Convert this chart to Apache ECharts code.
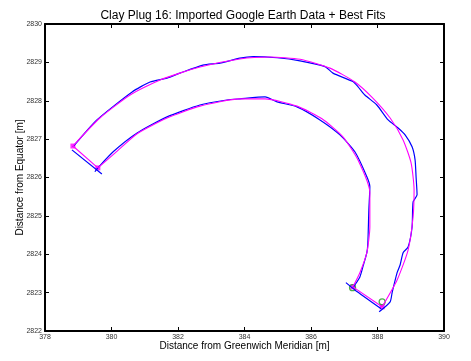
<!DOCTYPE html>
<html>
<head>
<meta charset="utf-8">
<script src="https://cdn.jsdelivr.net/npm/echarts@6/dist/echarts.min.js"></script>
<style>
  html, body { margin: 0; padding: 0; background: #fff; }
  #chart { width: 471px; height: 361px; }
</style>
</head>
<body>
<div id="chart"></div>
<script>
// Digitised outline of clay plug 16 (Google Earth) and fitted curves, in metres
const outerData = [
  [378.84, 2826.80], [379.56, 2827.50], [380.62, 2828.23], [381.16, 2828.49],
  [381.67, 2828.59], [382.06, 2828.72], [382.75, 2828.93], [383.26, 2828.98],
  [383.86, 2829.11], [384.26, 2829.15], [384.98, 2829.12], [385.67, 2829.04],
  [386.42, 2828.89], [386.66, 2828.72], [387.26, 2828.50], [387.41, 2828.37],
  [387.62, 2828.15], [387.98, 2827.89], [388.32, 2827.50], [388.62, 2827.29],
  [388.83, 2827.11], [389.04, 2826.80], [389.13, 2826.46], [389.16, 2826.02],
  [389.19, 2825.55], [389.07, 2825.36], [389.04, 2824.71], [388.92, 2824.19],
  [388.77, 2824.04], [388.68, 2823.72], [388.59, 2823.52], [388.44, 2823.00],
  [388.38, 2822.76], [388.05, 2822.50]
];
const innerData = [
  [379.50, 2826.15], [379.59, 2826.25], [380.05, 2826.67], [380.77, 2827.16],
  [381.67, 2827.58], [382.66, 2827.89], [383.47, 2828.02], [383.86, 2828.05],
  [384.62, 2828.10], [384.98, 2827.97], [385.58, 2827.84], [386.27, 2827.50],
  [386.87, 2827.11], [387.32, 2826.67], [387.68, 2826.02], [387.77, 2825.76],
  [387.74, 2825.16], [387.71, 2824.30], [387.68, 2824.04], [387.56, 2823.67],
  [387.47, 2823.41], [387.32, 2823.20], [387.26, 2823.13]
];
const westEndData = [[378.81, 2826.72], [379.71, 2826.09]];
const eastEndData = [[387.05, 2823.26], [387.32, 2823.07], [388.11, 2822.58]];

const outerFit = [
  [378.84, 2826.82], [379.65, 2827.55], [380.56, 2828.15], [381.46, 2828.54],
  [382.66, 2828.88], [383.86, 2829.09], [384.77, 2829.14], [385.67, 2829.08],
  [386.57, 2828.85], [387.32, 2828.49], [387.86, 2828.07], [388.38, 2827.55],
  [388.77, 2826.98], [389.01, 2826.38], [389.10, 2825.68], [389.07, 2824.97],
  [388.92, 2824.11], [388.59, 2823.33], [388.14, 2822.63]
];
const innerFit = [
  [379.59, 2826.25], [380.11, 2826.64], [380.77, 2827.14], [381.67, 2827.55],
  [382.66, 2827.86], [383.86, 2828.05], [384.62, 2828.05], [385.58, 2827.86],
  [386.33, 2827.53], [386.96, 2827.06], [387.41, 2826.46], [387.77, 2825.60],
  [387.77, 2824.71], [387.68, 2824.04], [387.47, 2823.52], [387.26, 2823.15]
];
const westEndFit = [[378.84, 2826.82], [379.59, 2826.25]];
const eastEndFit = [[387.26, 2823.15], [388.14, 2822.63]];
const fitCorners = [[378.84, 2826.82], [379.59, 2826.25], [387.26, 2823.15], [388.14, 2822.63]];
const endPoints = [[387.25, 2823.13], [388.14, 2822.76]];

const xTicks = [378, 380, 382, 384, 386, 388, 390];
const yTicks = [2822, 2823, 2824, 2825, 2826, 2827, 2828, 2829, 2830];

const BLUE = '#0000ff', MAGENTA = '#ff00ff', GREEN = '#1f9a1f';
const FONT = 'Liberation Sans, Arial, Helvetica, sans-serif';

function lineSeries(data, color, width) {
  return {
    type: 'line', data: data, showSymbol: false, symbol: 'none', smooth: 0.2,
    lineStyle: { color: color, width: width }, animation: false, silent: true
  };
}

const tickStyle = { show: true, inside: true, length: 4, lineStyle: { color: '#000', width: 1 } };
const lineStyle = { show: true, lineStyle: { color: '#000', width: 2 } };
const plain = v => String(v);

const chart = echarts.init(document.getElementById('chart'), null, { renderer: 'canvas' });
chart.setOption({
  backgroundColor: '#fff',
  animation: false,
  title: {
    text: 'Clay Plug 16: Imported Google Earth Data + Best Fits',
    left: 238, top: 5, textAlign: 'center',
    textStyle: { fontFamily: FONT, fontSize: 12, fontWeight: 'normal', color: '#000' }
  },
  grid: { left: 45, right: 27, top: 24, bottom: 30, containLabel: false },
  xAxis: [{
    type: 'value', min: xTicks[0], max: xTicks[xTicks.length - 1], interval: 2,
    position: 'bottom',
    name: 'Distance from Greenwich Meridian [m]', nameLocation: 'middle', nameGap: 10,
    nameMoveOverlap: false,
    nameTextStyle: { fontFamily: FONT, fontSize: 10, color: '#000', verticalAlign: 'top' },
    axisLine: lineStyle, axisTick: tickStyle, splitLine: { show: false },
    axisLabel: { fontFamily: FONT, fontSize: 7, color: '#333', margin: 3, formatter: plain }
  }, {
    type: 'value', min: xTicks[0], max: xTicks[xTicks.length - 1], interval: 2,
    position: 'top', axisLine: lineStyle, axisTick: tickStyle,
    axisLabel: { show: false }, splitLine: { show: false }
  }],
  yAxis: [{
    type: 'value', min: yTicks[0], max: yTicks[yTicks.length - 1], interval: 1,
    position: 'left',
    name: 'Distance from Equator [m]', nameLocation: 'middle', nameGap: 20,
    nameMoveOverlap: false,
    nameTextStyle: { fontFamily: FONT, fontSize: 10, color: '#000' },
    axisLine: lineStyle, axisTick: tickStyle, splitLine: { show: false },
    axisLabel: { fontFamily: FONT, fontSize: 7, color: '#333', margin: 3, formatter: plain }
  }, {
    type: 'value', min: yTicks[0], max: yTicks[yTicks.length - 1], interval: 1,
    position: 'right', axisLine: lineStyle, axisTick: tickStyle,
    axisLabel: { show: false }, splitLine: { show: false }
  }],
  series: [
    lineSeries(outerData, BLUE, 1.2),
    lineSeries(innerData, BLUE, 1.2),
    lineSeries(westEndData, BLUE, 1.2),
    lineSeries(eastEndData, BLUE, 1.2),
    lineSeries(outerFit, MAGENTA, 1.1),
    lineSeries(innerFit, MAGENTA, 1.1),
    lineSeries(westEndFit, MAGENTA, 1.1),
    lineSeries(eastEndFit, MAGENTA, 1.1),
    {
      type: 'scatter', data: fitCorners, symbol: 'rect', symbolSize: 5,
      itemStyle: { color: MAGENTA }, silent: true
    },
    {
      type: 'scatter', data: endPoints, symbol: 'circle', symbolSize: 6,
      itemStyle: { color: 'rgba(0,0,0,0)', borderColor: GREEN, borderWidth: 1.3 }, silent: true
    }
  ]
});
</script>
</body>
</html>
